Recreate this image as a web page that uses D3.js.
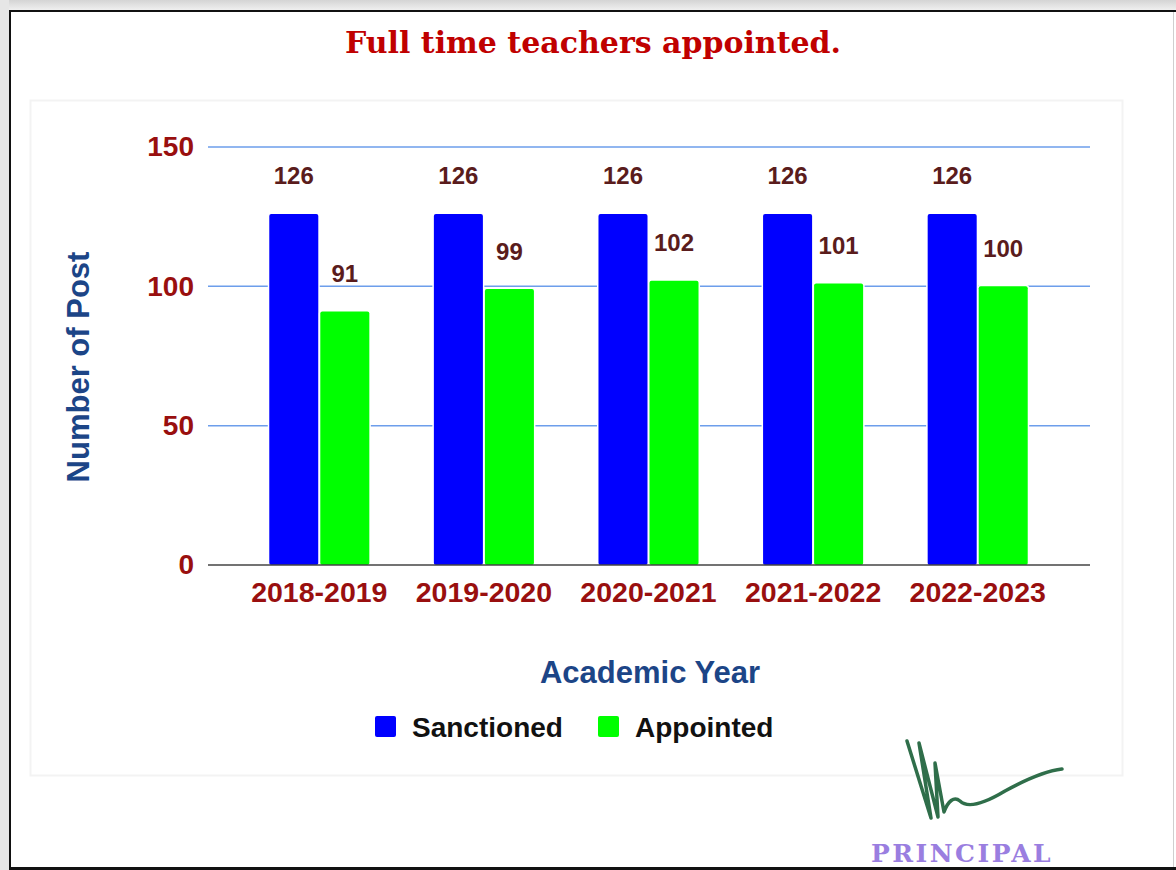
<!DOCTYPE html>
<html>
<head>
<meta charset="utf-8">
<script src="https://cdn.jsdelivr.net/npm/d3@7"></script>
<style>
  body { margin: 0; background: #fff; }
  svg { display: block; }
</style>
</head>
<body>
<div id="chart"></div>
<script>
// chart data
let years = ["2018-2019", "2019-2020", "2020-2021", "2021-2022", "2022-2023"];
let sanctioned = [126, 126, 126, 126, 126];
let appointed = [91, 99, 102, 101, 100];
let seriesNames = ["Sanctioned", "Appointed"];
let seriesColors = ["#0000ff", "#00ff00"];
let yTicks = [0, 50, 100, 150];

let svgWidth = 1176;
let svgHeight = 870;
let sans = "'Liberation Sans', Arial, sans-serif";

let svg = d3.select("#chart")
  .append("svg")
  .attr("width", svgWidth)
  .attr("height", svgHeight);

// page backdrop: grey strip on top/left, black frame
let defs = svg.append("defs");
let grad = defs.append("linearGradient").attr("id", "topGrad")
  .attr("x1", 0).attr("y1", 0).attr("x2", 0).attr("y2", 1);
grad.append("stop").attr("offset", "0%").attr("stop-color", "#d4d4d4");
grad.append("stop").attr("offset", "100%").attr("stop-color", "#f2f2f2");

svg.append("rect").attr("x", 0).attr("y", 0).attr("width", svgWidth).attr("height", 11)
  .attr("fill", "url(#topGrad)");
svg.append("rect").attr("x", 0).attr("y", 0).attr("width", 9).attr("height", svgHeight)
  .attr("fill", "#e6e6e6");
svg.append("line").attr("x1", 10).attr("x2", svgWidth).attr("y1", 11).attr("y2", 11)
  .attr("stroke", "#111").attr("stroke-width", 2);
svg.append("line").attr("x1", 10).attr("x2", 10).attr("y1", 10).attr("y2", svgHeight)
  .attr("stroke", "#111").attr("stroke-width", 2);
svg.append("line").attr("x1", 1173.5).attr("x2", 1173.5).attr("y1", 12).attr("y2", svgHeight)
  .attr("stroke", "#cfcfcf").attr("stroke-width", 1);

// title
svg.append("text")
  .attr("x", 593)
  .attr("y", 53)
  .attr("text-anchor", "middle")
  .style("font-family", "'DejaVu Serif', serif")
  .style("font-weight", "bold")
  .style("font-size", "30px")
  .style("fill", "#c00000")
  .text("Full time teachers appointed.");

// faint chart box
svg.append("rect")
  .attr("x", 30.5).attr("y", 100.5).attr("width", 1092).attr("height", 675)
  .attr("fill", "none").attr("stroke", "#f3f3f3").attr("stroke-width", 2);

// scales
let yScale = d3.scaleLinear().domain([0, 150]).range([565, 147]);

let x0 = d3.scaleBand()
  .domain(years)
  .range([237, 1060])
  .paddingInner(0.38)
  .paddingOuter(0.19);

let x1 = d3.scaleBand()
  .domain(seriesNames)
  .range([0, x0.bandwidth()])
  .paddingInner(0.0);

// gridlines
let grid = svg.append("g");
grid.selectAll("line")
  .data(yTicks.filter(d => d > 0))
  .enter()
  .append("line")
  .attr("x1", 208).attr("x2", 1090)
  .attr("y1", d => yScale(d)).attr("y2", d => yScale(d))
  .attr("stroke", "#6d9eeb")
  .attr("stroke-width", 1.5);

// y tick labels
let yAxis = d3.axisLeft(yScale).tickValues(yTicks).tickSize(0).tickPadding(0);
let yG = svg.append("g").attr("transform", "translate(194,0)").call(yAxis);
yG.select(".domain").remove();
yG.selectAll("text")
  .style("font-family", sans)
  .style("font-weight", "bold")
  .style("font-size", "28px")
  .style("fill", "#990f0f");

// bars
let rows = years.map((y, i) => ({ year: y, values: [sanctioned[i], appointed[i]] }));

let groups = svg.selectAll(".group")
  .data(rows)
  .enter()
  .append("g")
  .attr("class", "group")
  .attr("transform", d => `translate(${x0(d.year)},0)`);

groups.selectAll("rect")
  .data(d => d.values.map((v, j) => ({ key: seriesNames[j], value: v, color: seriesColors[j] })))
  .enter()
  .append("rect")
  .attr("x", d => x1(d.key) + 1)
  .attr("y", d => yScale(d.value))
  .attr("width", x1.bandwidth() - 2)
  .attr("height", d => yScale(0) - yScale(d.value))
  .attr("rx", 2)
  .attr("fill", d => d.color)
  .attr("stroke", "#fff")
  .attr("stroke-width", 3)
  .attr("paint-order", "stroke");

groups.selectAll("text")
  .data(d => d.values.map((v, j) => ({ key: seriesNames[j], value: v })))
  .enter()
  .append("text")
  .attr("x", d => x1(d.key) + x1.bandwidth() / 2)
  .attr("y", d => yScale(d.value) - 38)
  .attr("dy", "0.35em")
  .attr("text-anchor", "middle")
  .style("font-family", sans)
  .style("font-weight", "bold")
  .style("font-size", "24px")
  .style("fill", "#5a1c1c")
  .text(d => d.value);

// baseline
svg.append("line")
  .attr("x1", 208).attr("x2", 1090)
  .attr("y1", yScale(0)).attr("y2", yScale(0))
  .attr("stroke", "#444").attr("stroke-width", 1.5);

// x axis labels
let xAxis = d3.axisBottom(x0).tickSize(0).tickPadding(0);
let xG = svg.append("g").attr("transform", `translate(0,${yScale(0) + 17})`).call(xAxis);
xG.select(".domain").remove();
xG.selectAll("text")
  .attr("dy", "0.71em")
  .style("font-family", sans)
  .style("font-weight", "bold")
  .style("font-size", "28.5px")
  .style("fill", "#990f0f");

// axis titles
svg.append("text")
  .attr("x", 650)
  .attr("y", 683)
  .attr("text-anchor", "middle")
  .style("font-family", sans)
  .style("font-weight", "bold")
  .style("font-size", "31px")
  .style("fill", "#1c4587")
  .text("Academic Year");

svg.append("text")
  .attr("transform", "translate(89,367) rotate(-90)")
  .attr("text-anchor", "middle")
  .style("font-family", sans)
  .style("font-weight", "bold")
  .style("font-size", "31px")
  .style("fill", "#1c4587")
  .text("Number of Post");

// legend
let legendX = [375, 598];
let legend = svg.selectAll(".legend")
  .data(seriesNames)
  .enter()
  .append("g")
  .attr("class", "legend")
  .attr("transform", (d, i) => `translate(${legendX[i]},716)`);

legend.append("rect")
  .attr("width", 21).attr("height", 21).attr("rx", 2)
  .attr("fill", (d, i) => seriesColors[i]);

legend.append("text")
  .attr("x", 37)
  .attr("y", 11)
  .attr("dy", "0.35em")
  .style("font-family", sans)
  .style("font-weight", "bold")
  .style("font-size", "28px")
  .style("fill", "#111")
  .text(d => d);

// signature and stamp
svg.append("path")
  .attr("d", "M907,741 L931,818 L919,743 L938,817 L935,763 L944,812 C948,801 954,796 960,801 C968,809 985,803 1005,791 C1025,780 1045,771 1062,769")
  .attr("fill", "none")
  .attr("stroke", "#2f6e4a")
  .attr("stroke-width", 3.5)
  .attr("stroke-linejoin", "round")
  .attr("stroke-linecap", "round");

svg.append("text")
  .attr("x", 871)
  .attr("y", 862)
  .style("font-family", "'DejaVu Serif', serif")
  .style("font-weight", "bold")
  .style("font-size", "25px")
  .style("letter-spacing", "2.5px")
  .style("fill", "#9a7ee0")
  .text("PRINCIPAL");

svg.append("rect")
  .attr("x", 10).attr("y", 867).attr("width", svgWidth - 10).attr("height", 3)
  .attr("fill", "#111");
</script>
</body>
</html>
